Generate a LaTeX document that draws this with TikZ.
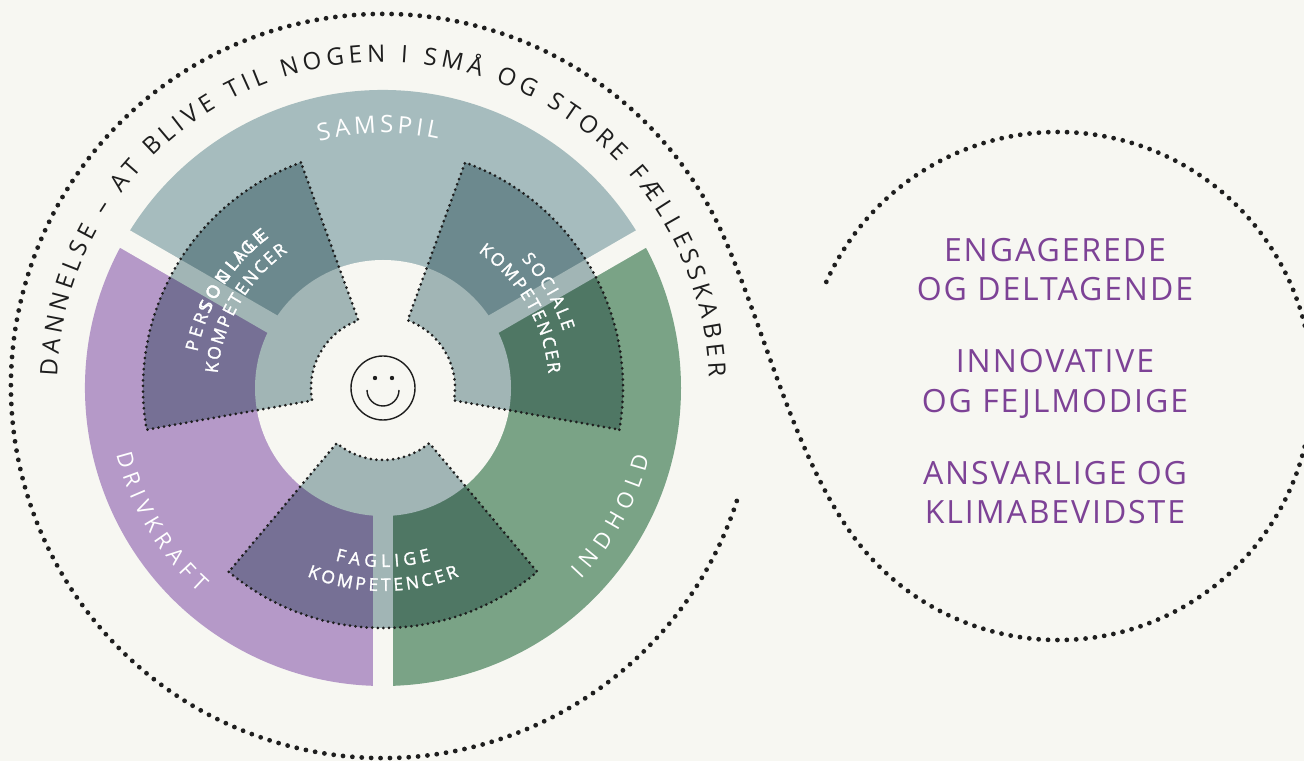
\documentclass[tikz,border=0pt]{standalone}
\usepackage{fontspec}
\setmainfont{Open Sans}
\newfontfamily\trackfont[LetterSpace=6]{Open Sans}
\newfontfamily\kompfont[FakeBold=1.5]{Open Sans}
\usetikzlibrary{decorations.text}
\definecolor{paper}{RGB}{247,247,242}
\definecolor{samspilc}{RGB}{166,188,190}
\definecolor{drivc}{RGB}{181,153,200}
\definecolor{indholdc}{RGB}{122,163,134}
\definecolor{kompc}{RGB}{167,187,191}
\definecolor{inkc}{RGB}{30,30,30}
\definecolor{lilla}{RGB}{125,66,150}
\begin{document}
\begin{tikzpicture}[x=1pt,y=1pt,
  bigdots/.style={inkc, line width=4.8, dash pattern=on 0pt off 9.4pt, line cap=round},
  smalldots/.style={inkc, line width=3, dash pattern=on 0pt off 5.6pt, line cap=round},
  gap/.style={paper, line width=20},
  arctext/.style 2 args={decorate, decoration={text along path, text align=fit to path, text color=#1, text={#2}}},
  goal/.style={lilla, anchor=base, inner sep=0pt, font=\trackfont\fontsize{32}{39}\selectfont}
]
\useasboundingbox (0,0) rectangle (1304,761);
\fill[paper] (0,0) rectangle (1304,761);

\coordinate (W) at (383,373);
\coordinate (L) at (383,375);
\coordinate (R) at (1058,375);

\fill[samspilc] (W) -- ++(30:298) arc[start angle=30, end angle=150, radius=298] -- cycle;
\fill[indholdc] (W) -- ++(-90:298) arc[start angle=-90, end angle=30, radius=298] -- cycle;
\fill[drivc] (W) -- ++(150:298) arc[start angle=150, end angle=270, radius=298] -- cycle;
\foreach \a in {30,150,270}
  \draw[gap] (W) -- ++(\a:310);
\fill[paper] (W) circle[radius=128];

\begin{scope}[blend mode=multiply]
\foreach \a in {30,150,270}
  \fill[kompc] ([shift={({\a-40}:240)}]W) arc[start angle=\a-40, end angle=\a+40, radius=240]
    -- ([shift={({\a+40}:72)}]W) arc[start angle=\a+40, end angle=\a-40, radius=72] -- cycle;
\end{scope}
\foreach \a in {30,150,270}
  \draw[smalldots] ([shift={({\a-40}:240)}]W) arc[start angle=\a-40, end angle=\a+40, radius=240]
    -- ([shift={({\a+40}:72)}]W) arc[start angle=\a+40, end angle=\a-40, radius=72] -- cycle;

\draw[bigdots] ([shift={(-18:372)}]L) arc[start angle=-18, end angle=-336, radius=372]
  .. controls +(-66:100) and +(125:100) .. ([shift={(215:254)}]R)
  arc[start angle=215, end angle=516, radius=254];

\path[arctext={inkc}{|\fontsize{24}{24}\selectfont|DANNELSE – AT BLIVE TIL NOGEN I SMÅ OG STORE FÆLLESSKABER}]
  ([shift={(178:326)}]W) arc[start angle=178, end angle=2, radius=326];

\path[arctext={white}{|\fontsize{24}{24}\selectfont|SAMSPIL}]
  ([shift={(104.5:255)}]W) arc[start angle=104.5, end angle=77.5, radius=255];
\path[arctext={white}{|\fontsize{22}{22}\selectfont|DRIVKRAFT}]
  ([shift={(194:275)}]W) arc[start angle=194, end angle=228, radius=275];
\path[arctext={white}{|\fontsize{22}{22}\selectfont|INDHOLD}]
  ([shift={(-44:275)}]W) arc[start angle=-44, end angle=-14.5, radius=275];

\path[arctext={white}{|\kompfont\fontsize{17.5}{17.5}\selectfont|SOCIALE}]
  ([shift={(43:189)}]W) arc[start angle=43, end angle=17.5, radius=189];
\path[arctext={white}{|\kompfont\fontsize{17.5}{17.5}\selectfont|KOMPETENCER}]
  ([shift={(55:166)}]W) arc[start angle=55, end angle=5, radius=166];
\path[arctext={white}{|\kompfont\fontsize{17.5}{17.5}\selectfont|PERSONLIGE}]
  ([shift={(169:189)}]W) arc[start angle=169, end angle=128, radius=189];
\path[arctext={white}{|\kompfont\fontsize{17.5}{17.5}\selectfont|SOCIALE}]
  ([shift={(157:189)}]W) arc[start angle=157, end angle=127, radius=189];
\path[arctext={white}{|\kompfont\fontsize{17.5}{17.5}\selectfont|KOMPETENCER}]
  ([shift={(175:166)}]W) arc[start angle=175, end angle=125, radius=166];
\path[arctext={white}{|\kompfont\fontsize{17.5}{17.5}\selectfont|FAGLIGE}]
  ([shift={(254.5:179)}]W) arc[start angle=254.5, end angle=285.5, radius=179];
\path[arctext={white}{|\kompfont\fontsize{17.5}{17.5}\selectfont|KOMPETENCER}]
  ([shift={(248:203)}]W) arc[start angle=248, end angle=292, radius=203];

\draw[inkc, line width=1.4] (W) circle[radius=32];
\fill[inkc] (375,383) circle[radius=2.2];
\fill[inkc] (392,383) circle[radius=2.2];
\draw[inkc, line width=1.4] (367,371) arc[start angle=180, end angle=360, radius=16];

\node[goal] (engage1) at (1055,499) {ENGAGEREDE};
\node[goal] (engage2) at (1055,460) {OG DELTAGENDE};
\node[goal] (innov1) at (1055,388) {INNOVATIVE};
\node[goal] (innov2) at (1055,348) {OG FEJLMODIGE};
\node[goal] (ansvar1) at (1055,276) {ANSVARLIGE OG};
\node[goal] (ansvar2) at (1055,237) {KLIMABEVIDSTE};
\end{tikzpicture}
\end{document}
